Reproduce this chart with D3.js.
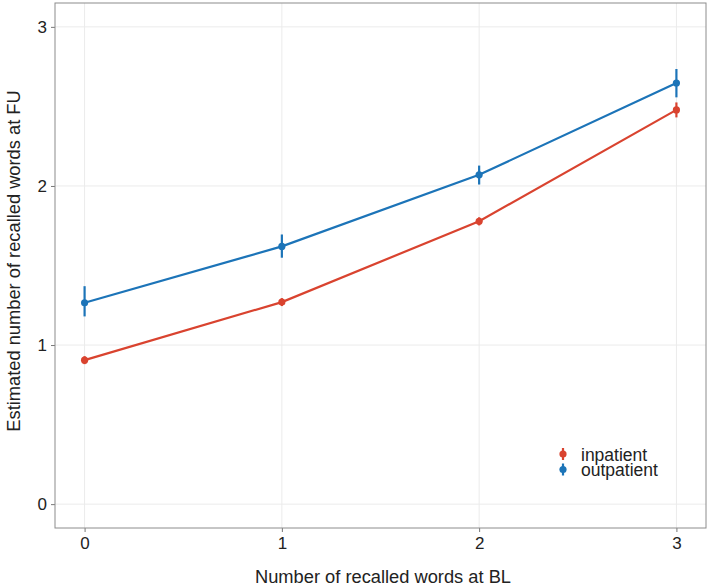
<!DOCTYPE html>
<html><head><meta charset="utf-8">
<script src="https://cdn.jsdelivr.net/npm/d3@7"></script>
<style>body{margin:0;background:#fff}svg{display:block}text{font-family:"Liberation Sans",Arial,sans-serif}</style>
</head><body><svg id="c" width="709" height="586"></svg>
<script>
const xValues = [0, 1, 2, 3];
const groups = ["inpatient", "outpatient"];
const inpatientMean = [0.905, 1.27, 1.778, 2.478];
const inpatientLow  = [0.88, 1.245, 1.752, 2.431];
const inpatientHigh = [0.93, 1.295, 1.803, 2.525];
const outpatientMean = [1.266, 1.62, 2.07, 2.647];
const outpatientLow  = [1.18, 1.549, 2.009, 2.557];
const outpatientHigh = [1.37, 1.695, 2.128, 2.735];
const colors = ["#d9432f", "#1c74b8"];
const yTicks = [0, 1, 2, 3];
const xTitle = "Number of recalled words at BL";
const yTitle = "Estimated number of recalled words at FU";

const series = [
  {name: groups[0], mean: inpatientMean, lo: inpatientLow, hi: inpatientHigh, color: colors[0]},
  {name: groups[1], mean: outpatientMean, lo: outpatientLow, hi: outpatientHigh, color: colors[1]}
];

const svg = d3.select("#c");
const L = 55, R = 706, T = 3, B = 528;
const x = d3.scaleLinear().domain([-0.15, 3.15]).range([L, R]);
const y = d3.scaleLinear().domain([-0.15, 3.15]).range([B, T]);

// grid
const g = svg.append("g");
g.selectAll(".gx").data(xValues).join("line")
  .attr("x1", d => x(d)).attr("x2", d => x(d)).attr("y1", T).attr("y2", B)
  .attr("stroke", "#ebebeb").attr("stroke-width", 1);
g.selectAll(".gy").data(yTicks).join("line")
  .attr("y1", d => y(d)).attr("y2", d => y(d)).attr("x1", L).attr("x2", R)
  .attr("stroke", "#ebebeb").attr("stroke-width", 1);

// axes
const xAxis = d3.axisBottom(x).tickValues(xValues).tickSize(4).tickPadding(5).tickFormat(d3.format("d"));
const yAxis = d3.axisLeft(y).tickValues(yTicks).tickSize(4).tickPadding(4).tickFormat(d3.format("d"));
const ax = svg.append("g").attr("transform", `translate(0,${B})`).call(xAxis);
const ay = svg.append("g").attr("transform", `translate(${L},0)`).call(yAxis);
[ax, ay].forEach(a => {
  a.select(".domain").remove();
  a.selectAll(".tick line").attr("stroke", "#777");
  a.selectAll(".tick text").attr("fill", "#222").style("font-size", "17px");
});

// border
svg.append("rect").attr("x", L).attr("y", T).attr("width", R - L).attr("height", B - T)
  .attr("fill", "none").attr("stroke", "#8c8c8c").attr("stroke-width", 1);

// series
const line = d3.line().x((d, i) => x(xValues[i])).y(d => y(d));
series.forEach(s => {
  const sg = svg.append("g");
  sg.append("path").datum(s.mean).attr("d", line).attr("fill", "none")
    .attr("stroke", s.color).attr("stroke-width", 2.2);
  sg.selectAll(".eb").data(xValues).join("line")
    .attr("x1", d => x(d)).attr("x2", d => x(d))
    .attr("y1", (d, i) => y(s.lo[i])).attr("y2", (d, i) => y(s.hi[i]))
    .attr("stroke", s.color).attr("stroke-width", 2.2);
  sg.selectAll(".pt").data(xValues).join("circle")
    .attr("cx", d => x(d)).attr("cy", (d, i) => y(s.mean[i])).attr("r", 3.6)
    .attr("fill", s.color);
});

// legend
series.forEach((s, i) => {
  const cy = 454 + i * 15.5;
  svg.append("line").attr("x1", 563).attr("x2", 563).attr("y1", cy - 6).attr("y2", cy + 6)
    .attr("stroke", s.color).attr("stroke-width", 2.2);
  svg.append("circle").attr("cx", 563).attr("cy", cy).attr("r", 3.6).attr("fill", s.color);
  svg.append("text").attr("x", 581).attr("y", cy + 6.5).text(s.name)
    .style("font-size", "17.5px").attr("fill", "#222");
});

// titles
svg.append("text").attr("x", 383).attr("y", 583).attr("text-anchor", "middle")
  .style("font-size", "18.3px").attr("fill", "#222").text(xTitle);
svg.append("text").attr("transform", `translate(20,261) rotate(-90)`)
  .attr("text-anchor", "middle").style("font-size", "18.3px").attr("fill", "#222").text(yTitle);
</script></body></html>
